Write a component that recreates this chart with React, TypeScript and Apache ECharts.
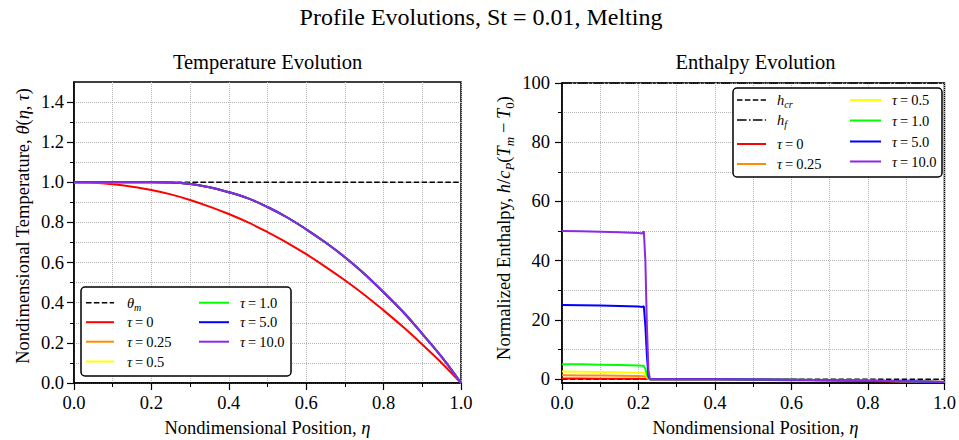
import React, { useEffect, useRef } from 'react';
import * as echarts from 'echarts';

const FONT = '"Liberation Serif", "Times New Roman", Times, serif';

// ---------- Temperature evolution (left panel) ----------
const etaTemp = [0, 0.05, 0.1, 0.15, 0.2, 0.25, 0.3, 0.35, 0.4, 0.45, 0.5, 0.55, 0.6, 0.65, 0.7, 0.75, 0.8, 0.85, 0.9, 0.95, 1.0];
const thetaTau0 = [1.0, 0.998, 0.99, 0.978, 0.962, 0.94, 0.912, 0.879, 0.842, 0.8, 0.752, 0.7, 0.642, 0.579, 0.512, 0.44, 0.362, 0.28, 0.192, 0.1, 0.0];
// tau = 0.25, 0.5, 1.0, 5.0 and 10.0 coincide in the picture
const thetaLater = [1.0, 1.0, 1.0, 1.0, 1.0, 0.999, 0.992, 0.975, 0.951, 0.92, 0.877, 0.826, 0.766, 0.7, 0.627, 0.545, 0.452, 0.355, 0.245, 0.13, 0.0];
const thetaMelt = 1.0;

// ---------- Enthalpy evolution (right panel) ----------
const etaEnth = [0, 0.05, 0.1, 0.15, 0.2, 0.21, 0.214, 0.218, 0.222, 0.226, 0.23, 0.3, 0.4, 0.5, 0.6, 0.7, 0.8, 0.9, 1.0];
const hTau0 = [0.2, 0.18, 0.15, 0.12, 0.1, 0.08, 0.07, 0.05, 0.03, 0.01, 0.0, -0.09, -0.16, -0.25, -0.36, -0.49, -0.64, -0.81, -1.0];
const hTau025 = [1.3, 1.27, 1.22, 1.15, 1.05, 1.0, 0.97, 0.75, 0.4, 0.1, 0.0, -0.01, -0.05, -0.12, -0.23, -0.37, -0.55, -0.75, -1.0];
const hTau05 = [2.55, 2.5, 2.45, 2.35, 2.2, 2.12, 2.05, 1.6, 0.8, 0.2, 0.0, -0.01, -0.05, -0.12, -0.23, -0.37, -0.55, -0.75, -1.0];
const hTau1 = [5.05, 5.0, 4.9, 4.8, 4.6, 4.5, 4.45, 3.5, 1.5, 0.3, 0.0, -0.01, -0.05, -0.12, -0.23, -0.37, -0.55, -0.75, -1.0];
const hTau5 = [25.0, 24.95, 24.85, 24.7, 24.5, 24.4, 24.6, 18.0, 8.0, 1.0, 0.0, -0.01, -0.05, -0.12, -0.23, -0.37, -0.55, -0.75, -1.0];
const hTau10 = [50.0, 49.9, 49.8, 49.6, 49.35, 49.2, 49.9, 40.0, 18.0, 3.0, 0.0, -0.01, -0.05, -0.12, -0.23, -0.37, -0.55, -0.75, -1.0];
const hCritical = 0;
const hFusion = 100;

// ---------- ticks ----------
const tempYTicks = [0, 0.2, 0.4, 0.6, 0.8, 1.0, 1.2, 1.4];
const tempYMinor = [0.1, 0.3, 0.5, 0.7, 0.9, 1.1, 1.3];
const enthYTicks = [0, 20, 40, 60, 80, 100];
const enthYMinor = [10, 30, 50, 70, 90];

const tauLabels = ['0', '0.25', '0.5', '1.0', '5.0', '10.0'];
const tauColors = ['#ff0000', '#ff8c00', '#ffff00', '#00ff00', '#0000ff', '#8a2be2'];

const DASH = [5.5, 2.4];
const DASHDOT = [9.6, 2.4, 1.5, 2.4];
const GRIDLINE = { color: '#b5b5b5', type: 'dotted' as const, width: 1 };

const TICK_FS = 18.5;
const LABEL_FS = 18.5;
const LEG_FS = 14.5;

const pairs = (xs: number[], ys: number[]) => xs.map((x, i) => [x, ys[i]]);

const rich = (sz: number) => {
  const sub = Math.round(sz * 0.7);
  return {
    i: { fontFamily: FONT, fontStyle: 'italic', fontSize: sz, lineHeight: sz + 5, fill: '#000', color: '#000' },
    n: { fontFamily: FONT, fontSize: sz, lineHeight: sz + 5, fill: '#000', color: '#000' },
    s: { fontFamily: FONT, fontStyle: 'italic', fontSize: sub, lineHeight: sub, fill: '#000', color: '#000', verticalAlign: 'bottom' },
    u: { fontFamily: FONT, fontSize: sub, lineHeight: sub, fill: '#000', color: '#000', verticalAlign: 'bottom' },
  };
};

const txt = (x: number, y: number, text: string, sz: number, align = 'left', rotation = 0) => ({
  type: 'text',
  x,
  y,
  rotation,
  z: 101,
  style: { text, rich: rich(sz), fontFamily: FONT, fontSize: sz, fill: '#000', align, verticalAlign: 'middle' },
});

const hline = (x1: number, x2: number, y: number, color: string, dash?: number[], w = 2) => ({
  type: 'line',
  z: 101,
  shape: { x1, y1: y, x2, y2: y },
  style: { stroke: color, lineWidth: w, lineDash: dash },
});

const tauText = (k: number) => `{i|τ}{n|\u2009=\u2009${tauLabels[k]}}`;

const axisLabelStyle = { fontFamily: FONT, fontSize: TICK_FS, color: '#000' };

function xAxisDef(gridIndex: number) {
  return {
    type: 'value',
    gridIndex,
    min: 0,
    max: 1,
    interval: 0.2,
    axisLine: { show: true, onZero: false, lineStyle: { color: '#000', width: 1.5 } },
    axisTick: { show: true, length: 7, lineStyle: { color: '#000', width: 1.2 } },
    minorTick: { show: true, splitNumber: 2, length: 4, lineStyle: { color: '#000', width: 1 } },
    splitLine: { show: true, lineStyle: GRIDLINE },
    minorSplitLine: { show: true, lineStyle: GRIDLINE },
    axisLabel: { ...axisLabelStyle, margin: 10, formatter: (v: number) => v.toFixed(1) },
  };
}

function yAxisMain(gridIndex: number, min: number, max: number, ticks: number[], fmt: (v: number) => string, margin: number) {
  return {
    type: 'value',
    gridIndex,
    min,
    max,
    position: 'left',
    axisLine: { show: true, onZero: false, lineStyle: { color: '#000', width: 1.5 } },
    axisTick: { show: true, length: 7, customValues: ticks, lineStyle: { color: '#000', width: 1.2 } },
    splitLine: { show: true, lineStyle: GRIDLINE },
    axisLabel: { ...axisLabelStyle, margin, customValues: ticks, formatter: fmt },
  };
}

function yAxisMinor(gridIndex: number, min: number, max: number, ticks: number[]) {
  return {
    type: 'value',
    gridIndex,
    min,
    max,
    position: 'left',
    axisLine: { show: false },
    axisTick: { show: true, length: 4, customValues: ticks, lineStyle: { color: '#000', width: 1 } },
    splitLine: { show: true, lineStyle: GRIDLINE },
    axisLabel: { show: false },
  };
}

function buildOption() {
  const series: any[] = [];
  series.push({
    type: 'line', name: 'theta_m', xAxisIndex: 0, yAxisIndex: 0, symbol: 'none', silent: true,
    data: [[0, thetaMelt], [1, thetaMelt]],
    lineStyle: { color: '#000', width: 1.5, type: DASH },
  });
  for (let k = 0; k < 6; k++) {
    series.push({
      type: 'line', name: 'T' + tauLabels[k], xAxisIndex: 0, yAxisIndex: 0, symbol: 'none', silent: true,
      smooth: 0.4,
      data: pairs(etaTemp, k === 0 ? thetaTau0 : thetaLater),
      lineStyle: { color: tauColors[k], width: 2 },
    });
  }
  series.push({
    type: 'line', name: 'h_cr', xAxisIndex: 1, yAxisIndex: 2, symbol: 'none', silent: true,
    data: [[0, hCritical], [1, hCritical]],
    lineStyle: { color: '#000', width: 1.5, type: DASH },
  });
  series.push({
    type: 'line', name: 'h_f', xAxisIndex: 1, yAxisIndex: 2, symbol: 'none', silent: true,
    data: [[0, hFusion], [1, hFusion]],
    lineStyle: { color: '#000', width: 1.5, type: DASHDOT },
  });
  const hs = [hTau0, hTau025, hTau05, hTau1, hTau5, hTau10];
  for (let k = 0; k < 6; k++) {
    series.push({
      type: 'line', name: 'H' + tauLabels[k], xAxisIndex: 1, yAxisIndex: 2, symbol: 'none', silent: true,
      data: pairs(etaEnth, hs[k]),
      lineStyle: { color: tauColors[k], width: 2 },
    });
  }

  const graphic: any[] = [];
  // titles
  graphic.push(txt(481, 17, '{n|Profile Evolutions, St = 0.01, Melting}', 24, 'center'));
  graphic.push(txt(267.5, 62, '{n|Temperature Evolution}', 20.5, 'center'));
  graphic.push(txt(755.5, 62, '{n|Enthalpy Evolution}', 20.5, 'center'));
  // axis names
  graphic.push(txt(267.5, 428, '{n|Nondimensional Position, }{i|η}', LABEL_FS, 'center'));
  graphic.push(txt(755.5, 428, '{n|Nondimensional Position, }{i|η}', LABEL_FS, 'center'));
  graphic.push(txt(23, 226, '{n|Nondimensional Temperature, }{i|θ}{n|(}{i|η}{n|, }{i|τ}{n|)}', LABEL_FS, 'center', Math.PI / 2));
  graphic.push(txt(504, 228, '{n|Normalized Enthalpy, }{i|h}{n|/}{i|c}{s|P}{n|(}{i|T}{s|m}{n|\u2009\u2212\u2009}{i|T}{u|0}{n|)}', LABEL_FS, 'center', Math.PI / 2));

  // left legend
  graphic.push({ type: 'rect', z: 100, shape: { x: 81, y: 287, width: 210, height: 89, r: 4 }, style: { fill: '#fff', stroke: '#000', lineWidth: 1.5 } });
  const lRows = [302.7, 322.2, 341.7, 361.5];
  graphic.push(hline(86, 114, lRows[0], '#000', DASH, 1.5));
  graphic.push(txt(127, lRows[0], '{i|θ}{s|m}', LEG_FS));
  for (let k = 0; k < 3; k++) {
    graphic.push(hline(86, 114, lRows[k + 1], tauColors[k]));
    graphic.push(txt(127, lRows[k + 1], tauText(k), LEG_FS));
  }
  for (let k = 3; k < 6; k++) {
    graphic.push(hline(199, 229, lRows[k - 3], tauColors[k]));
    graphic.push(txt(240, lRows[k - 3], tauText(k), LEG_FS));
  }

  // right legend
  graphic.push({ type: 'rect', z: 100, shape: { x: 733, y: 88, width: 209, height: 89, r: 4 }, style: { fill: '#fff', stroke: '#000', lineWidth: 1.5 } });
  const r1 = [100, 120, 144, 164];
  const r2 = [100, 120.5, 141.5, 161.5];
  graphic.push(hline(737, 766, r1[0], '#000', DASH, 1.5));
  graphic.push(txt(777, r1[0], '{i|h}{s|cr}', LEG_FS));
  graphic.push(hline(737, 766, r1[1], '#000', DASHDOT, 1.5));
  graphic.push(txt(777, r1[1], '{i|h}{s|f}', LEG_FS));
  for (let k = 0; k < 2; k++) {
    graphic.push(hline(737, 766, r1[k + 2], tauColors[k]));
    graphic.push(txt(777, r1[k + 2], tauText(k), LEG_FS));
  }
  for (let k = 2; k < 6; k++) {
    graphic.push(hline(850, 881, r2[k - 2], tauColors[k]));
    graphic.push(txt(892, r2[k - 2], tauText(k), LEG_FS));
  }

  return {
    animation: false,
    backgroundColor: '#ffffff',
    textStyle: { fontFamily: FONT },
    grid: [
      { left: 74, top: 82, width: 387, height: 301, show: true, borderColor: '#000', borderWidth: 1.5, backgroundColor: 'transparent' },
      { left: 562, top: 83, width: 387, height: 300, show: true, borderColor: '#000', borderWidth: 1.5, backgroundColor: 'transparent' },
    ],
    xAxis: [xAxisDef(0), xAxisDef(1)],
    yAxis: [
      yAxisMain(0, 0, 1.5, tempYTicks, (v: number) => v.toFixed(1), 10),
      yAxisMinor(0, 0, 1.5, tempYMinor),
      yAxisMain(1, -1.3, 100, enthYTicks, (v: number) => String(Math.round(v)), 12),
      yAxisMinor(1, -1.3, 100, enthYMinor),
    ],
    series,
    graphic,
  };
}

export default function App() {
  const ref = useRef<HTMLDivElement>(null);
  useEffect(() => {
    document.body.style.margin = '0';
    if (!ref.current) return;
    const chart = echarts.init(ref.current, undefined, { renderer: 'svg' });
    chart.setOption(buildOption() as any);
    return () => chart.dispose();
  }, []);
  return <div ref={ref} style={{ width: 959, height: 440 }} />;
}
